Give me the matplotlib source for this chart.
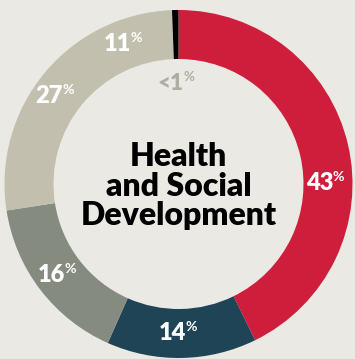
import numpy as np
import matplotlib
matplotlib.use("Agg")
import matplotlib.pyplot as plt

# share of each segment, clockwise from the top
labels = ["43", "14", "16", "27", "<1"]
values = [43, 14, 16, 27, 0.6]
colors = ["#cf1e3c", "#1f4455", "#868b80", "#c3bfae", "#000000"]
inner_note = "11"          # sub-share shown inside the tan segment
title = "Health\nand Social\nDevelopment"

BG = "#ebe9e4"
W, H = 355, 359
CX, CY = 178.5, 175.0
R_OUT, R_IN = 174.0, 125.0
R_LAB = (R_OUT + R_IN) / 2

fig = plt.figure(figsize=(W / 100, H / 100), dpi=100, facecolor=BG)
ax = fig.add_axes([0, 0, 1, 1])
ax.set_facecolor(BG)

wedges, _ = ax.pie(values, colors=colors, startangle=90, counterclock=False,
                   radius=R_OUT, center=(CX, CY), frame=True,
                   wedgeprops=dict(width=R_OUT - R_IN, linewidth=0))
ax.set_xlim(0, W)
ax.set_ylim(0, H)
ax.set_aspect("equal")
ax.axis("off")

FONT = "Lato"


def pct_label(ang, num, color="white", r=R_LAB, size=17):
    a = np.deg2rad(ang)
    x = CX + r * np.cos(a)
    y = CY + r * np.sin(a)
    ax.text(x + 5, y, num, ha="right", va="center", color=color,
            fontsize=size, fontweight="heavy", family=FONT)
    ax.text(x + 4.5, y + 6, "%", ha="left", va="center", color=color,
            fontsize=size * 0.6, fontweight="bold", family=FONT)


# nudges so labels sit where there is room in the ring
nudge = {"43": -12.6, "27": 3.5}
for w, lab in zip(wedges, labels):
    if lab == "<1":
        continue
    mid = (w.theta1 + w.theta2) / 2
    pct_label(mid + nudge.get(lab, 0), lab)

# tan sub-share and the sliver note inside the hole
tan = wedges[3]
pct_label(tan.theta1 + 0.19 * (tan.theta2 - tan.theta1), inner_note)
pct_label(90, "<1", color="#aeada2", r=R_IN - 24, size=16)

ax.text(CX, CY - 2, title, ha="center", va="center", fontsize=23,
        fontweight="heavy", family=FONT, linespacing=1.0, color="black")

fig.savefig("out.png", dpi=100, facecolor=BG)
